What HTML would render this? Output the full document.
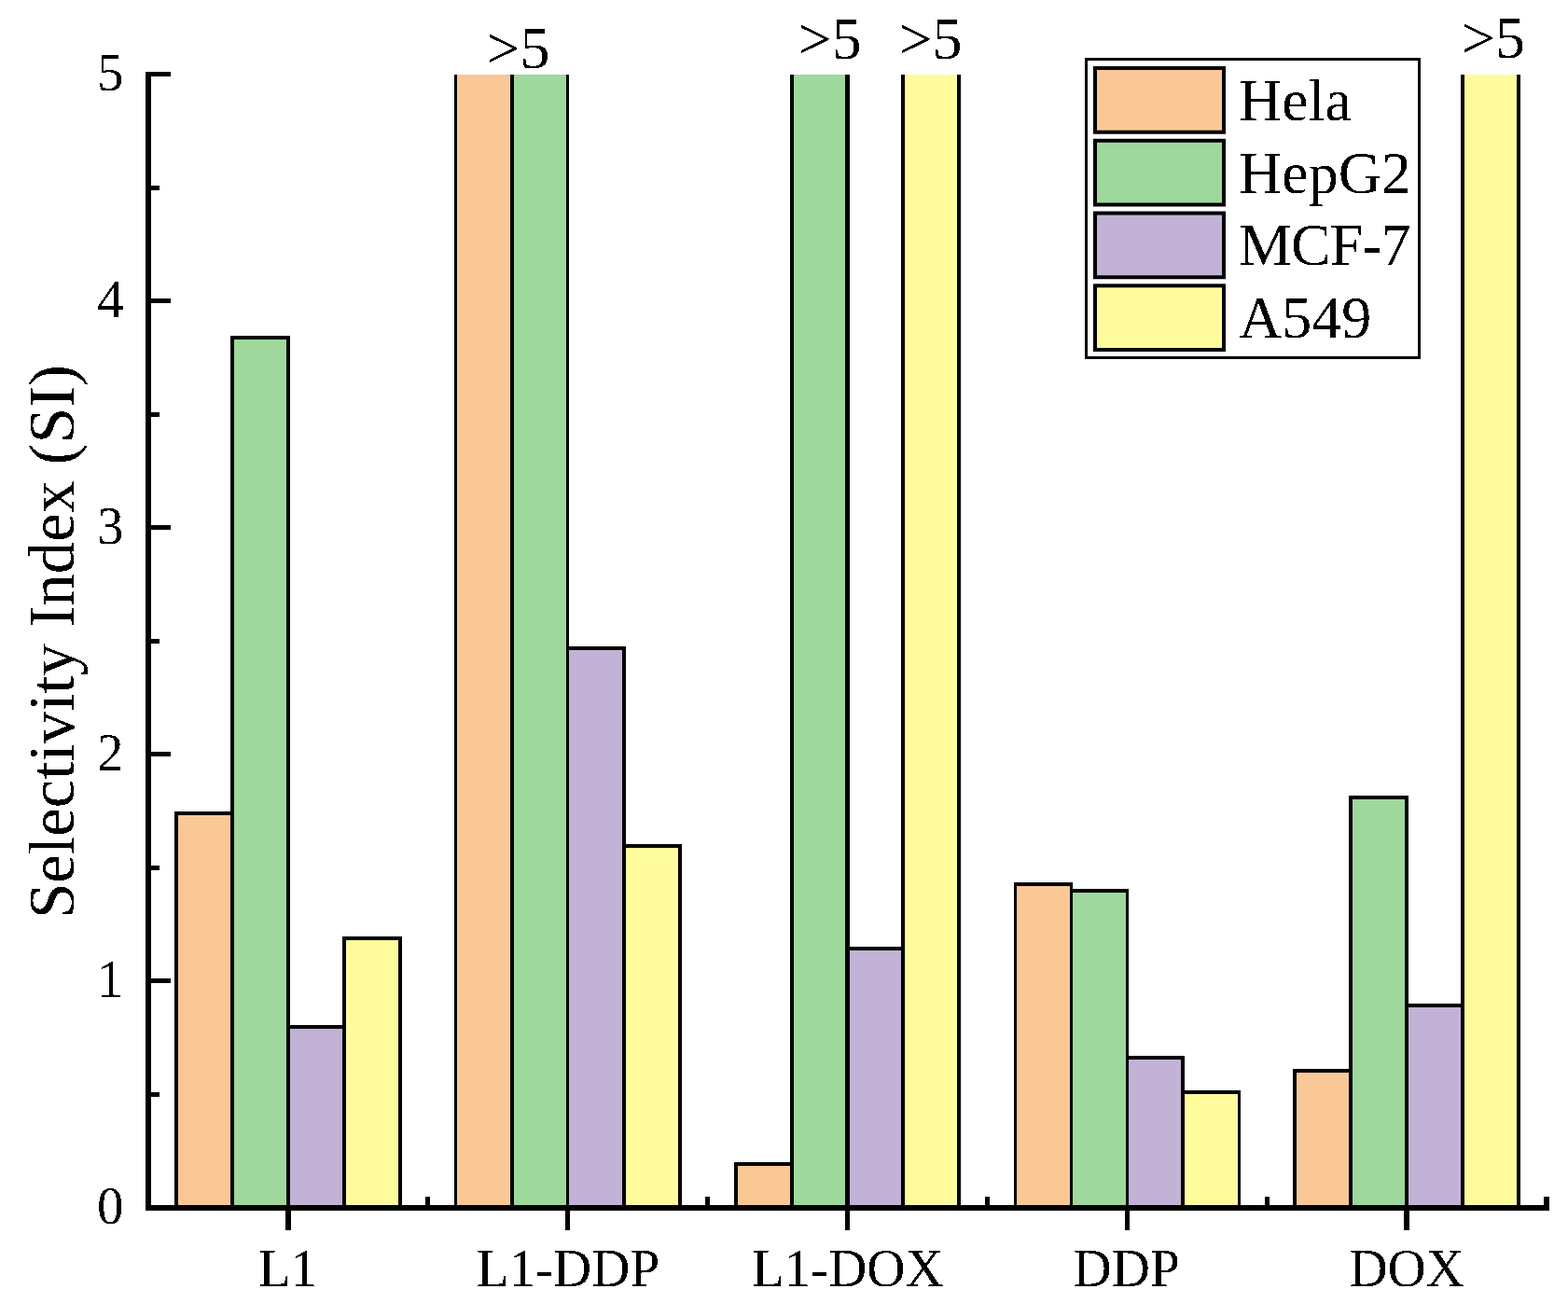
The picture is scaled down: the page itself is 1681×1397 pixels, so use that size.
<!DOCTYPE html>
<html><head><meta charset="utf-8"><title>Selectivity Index</title>
<style>
html,body{margin:0;padding:0;background:#fff;}
svg{display:block;}
text{font-family:"Liberation Serif","Times New Roman",serif;fill:#000;}
.t57{font-size:57px;}
.t64{font-size:64px;}
.t69{font-size:69px;}
</style></head><body>
<svg width="1681" height="1397" viewBox="0 0 1681 1397">
<defs><filter id="al" x="-5%" y="-5%" width="110%" height="110%"><feComponentTransfer><feFuncA type="discrete" tableValues="0 1"/></feComponentTransfer></filter></defs>
<rect width="1681" height="1397" fill="#fff"/>
<g shape-rendering="crispEdges">
<rect x="187" y="870" width="64" height="424" fill="#000"/>
<rect x="191" y="874" width="56" height="420" fill="#F9C896"/>
<rect x="247" y="360" width="64" height="934" fill="#000"/>
<rect x="251" y="364" width="56" height="930" fill="#9ED89C"/>
<rect x="307" y="1099" width="64" height="195" fill="#000"/>
<rect x="311" y="1103" width="56" height="191" fill="#C2B2D6"/>
<rect x="367" y="1004" width="64" height="290" fill="#000"/>
<rect x="371" y="1008" width="56" height="286" fill="#FFFC9E"/>
<rect x="487" y="80" width="64" height="1214" fill="#000"/>
<rect x="490" y="80" width="57" height="1214" fill="#F9C896"/>
<rect x="547" y="80" width="63" height="1214" fill="#000"/>
<rect x="551" y="80" width="56" height="1214" fill="#9ED89C"/>
<rect x="607" y="693" width="64" height="601" fill="#000"/>
<rect x="610" y="697" width="57" height="597" fill="#C2B2D6"/>
<rect x="667" y="905" width="64" height="389" fill="#000"/>
<rect x="671" y="909" width="56" height="385" fill="#FFFC9E"/>
<rect x="787" y="1246" width="64" height="48" fill="#000"/>
<rect x="791" y="1250" width="56" height="44" fill="#F9C896"/>
<rect x="847" y="80" width="64" height="1214" fill="#000"/>
<rect x="851" y="80" width="55" height="1214" fill="#9ED89C"/>
<rect x="906" y="1015" width="64" height="279" fill="#000"/>
<rect x="911" y="1019" width="55" height="275" fill="#C2B2D6"/>
<rect x="966" y="80" width="64" height="1214" fill="#000"/>
<rect x="970" y="80" width="56" height="1214" fill="#FFFC9E"/>
<rect x="1087" y="946" width="63" height="348" fill="#000"/>
<rect x="1090" y="950" width="57" height="344" fill="#F9C896"/>
<rect x="1147" y="953" width="63" height="341" fill="#000"/>
<rect x="1150" y="957" width="57" height="337" fill="#9ED89C"/>
<rect x="1207" y="1132" width="63" height="162" fill="#000"/>
<rect x="1210" y="1136" width="56" height="158" fill="#C2B2D6"/>
<rect x="1266" y="1169" width="64" height="125" fill="#000"/>
<rect x="1270" y="1173" width="57" height="121" fill="#FFFC9E"/>
<rect x="1386" y="1146" width="64" height="148" fill="#000"/>
<rect x="1390" y="1150" width="56" height="144" fill="#F9C896"/>
<rect x="1446" y="853" width="64" height="441" fill="#000"/>
<rect x="1450" y="857" width="56" height="437" fill="#9ED89C"/>
<rect x="1506" y="1076" width="64" height="218" fill="#000"/>
<rect x="1510" y="1080" width="56" height="214" fill="#C2B2D6"/>
<rect x="1566" y="80" width="64" height="1214" fill="#000"/>
<rect x="1570" y="80" width="56" height="1214" fill="#FFFC9E"/>
<rect x="156" y="77" width="6" height="1221" fill="#000"/>
<rect x="156" y="1292" width="1505" height="6" fill="#000"/>
<rect x="162" y="77" width="21" height="5" fill="#000"/>
<rect x="162" y="320" width="21" height="5" fill="#000"/>
<rect x="162" y="563" width="21" height="5" fill="#000"/>
<rect x="162" y="806" width="21" height="5" fill="#000"/>
<rect x="162" y="1049" width="21" height="5" fill="#000"/>
<rect x="162" y="1292" width="21" height="5" fill="#000"/>
<rect x="162" y="199" width="9" height="5" fill="#000"/>
<rect x="162" y="442" width="9" height="5" fill="#000"/>
<rect x="162" y="685" width="9" height="5" fill="#000"/>
<rect x="162" y="928" width="9" height="5" fill="#000"/>
<rect x="162" y="1171" width="9" height="5" fill="#000"/>
<rect x="306" y="1298" width="6" height="21" fill="#000"/>
<rect x="606" y="1298" width="5" height="21" fill="#000"/>
<rect x="906" y="1298" width="5" height="21" fill="#000"/>
<rect x="1206" y="1298" width="5" height="21" fill="#000"/>
<rect x="1505" y="1298" width="6" height="21" fill="#000"/>
<rect x="456" y="1283" width="5" height="9" fill="#000"/>
<rect x="756" y="1283" width="5" height="9" fill="#000"/>
<rect x="1056" y="1283" width="5" height="9" fill="#000"/>
<rect x="1356" y="1283" width="5" height="9" fill="#000"/>
<rect x="1655" y="1283" width="6" height="9" fill="#000"/>
</g>
<g filter="url(#al)">
<text x="132.5" y="97" text-anchor="end" class="t57">5</text><text x="132.5" y="340" text-anchor="end" class="t57">4</text><text x="132.5" y="583" text-anchor="end" class="t57">3</text><text x="132.5" y="826" text-anchor="end" class="t57">2</text><text x="132.5" y="1069" text-anchor="end" class="t57">1</text><text x="132.5" y="1312" text-anchor="end" class="t57">0</text>
<text x="276.9" y="1379" class="t57">L1</text><text x="510.8" y="1379" class="t57">L1-DDP</text><text x="805.9" y="1379" class="t57">L1-DOX</text><text x="1150.6" y="1379" class="t57">DDP</text><text x="1446.4" y="1379" class="t57">DOX</text>
<text x="521.3" y="73" class="t64">&gt;5</text><text x="855.6" y="62.5" class="t64">&gt;5</text><text x="963.5" y="62.5" class="t64">&gt;5</text><text x="1566.8" y="62.1" class="t64">&gt;5</text>
<text class="t69" transform="translate(79 985) rotate(-90)">Selectivity Index (SI)</text>
</g>
<g>
<rect x="1164.5" y="63.5" width="357" height="320" fill="#fff" stroke="#000" stroke-width="3"/><rect x="1174" y="73.00" width="138" height="68.7" fill="#F9C896" stroke="#000" stroke-width="4"/><rect x="1174" y="150.77" width="138" height="68.7" fill="#9ED89C" stroke="#000" stroke-width="4"/><rect x="1174" y="228.54" width="138" height="68.7" fill="#C2B2D6" stroke="#000" stroke-width="4"/><rect x="1174" y="306.31" width="138" height="68.7" fill="#FFFC9E" stroke="#000" stroke-width="4"/>
</g>
<g filter="url(#al)">
<text x="1328" y="129.0" class="t64">Hela</text><text x="1328" y="206.5" class="t64">HepG2</text><text x="1328" y="284.0" class="t64" textLength="184.5" lengthAdjust="spacing">MCF-7</text><text x="1328" y="361.5" class="t64">A549</text>
</g>
</svg>
</body></html>
